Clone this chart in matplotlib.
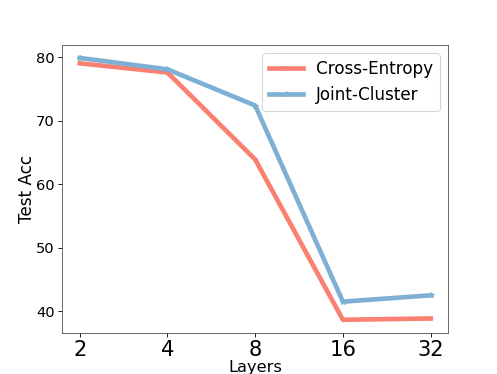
import matplotlib
matplotlib.use("Agg")
import matplotlib.pyplot as plt

layers = ["2", "4", "8", "16", "32"]
cross_entropy = [79.05, 77.6, 63.9, 38.65, 38.85]
joint_cluster = [79.9, 78.1, 72.4, 41.5, 42.5]

fig = plt.figure(figsize=(6.4, 4.808), dpi=77.8)
ax = fig.add_subplot(111)
x = range(len(layers))
ax.plot(x, cross_entropy, color="#fa8072", lw=4.3, marker=".", ms=5, label="Cross-Entropy")
ax.plot(x, joint_cluster, color="#7eb0d5", lw=4.3, marker="*", ms=5, label="Joint-Cluster")

ax.set_xticks(list(x))
ax.set_xticklabels(layers, fontsize=19.5)
ax.tick_params(axis="y", labelsize=13.5)
ax.set_xlabel("Layers", fontsize=15, labelpad=0)
ax.set_ylabel("Test Acc", fontsize=15.5, labelpad=0)
for s in ax.spines.values():
    s.set_color("#555555")
ax.legend(fontsize=15.5, loc="upper right")

fig.savefig("out.png", dpi=77.8)
